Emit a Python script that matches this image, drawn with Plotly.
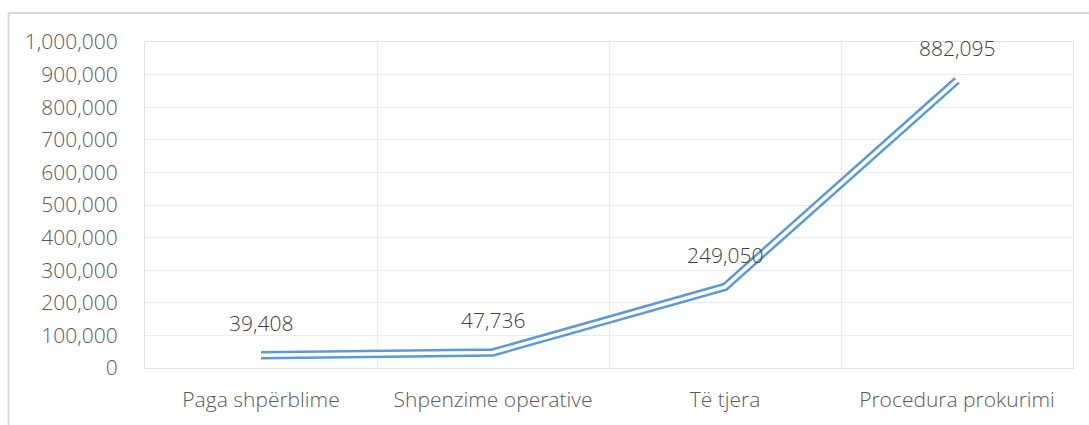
import plotly.graph_objects as go

categories = ["Paga shpërblime", "Shpenzime operative", "Të tjera", "Procedura prokurimi"]
values = [39408, 47736, 249050, 882095]
tick_vals = [0, 100000, 200000, 300000, 400000, 500000, 600000, 700000, 800000, 900000, 1000000]
tick_text = [f"{v:,}" for v in tick_vals]

line_color = '#5B9BD5'
font_family = 'Open Sans'

fig = go.Figure()
# double compound line: wide blue stroke with a thin white core
fig.add_trace(go.Scatter(x = categories, y = values, mode = 'lines',
                         line = dict(color = line_color, width = 8.5), hoverinfo = 'skip'))
fig.add_trace(go.Scatter(x = categories, y = values, mode = 'lines',
                         line = dict(color = 'white', width = 3.5),
                         hoverinfo = 'text', hovertext = [f"{c}: {v:,}" for c, v in zip(categories, values)]))

for c, v in zip(categories, values):
    fig.add_annotation(x = c, y = v, text = f"{v:,}", showarrow = False, yshift = 32,
                       font = dict(family = font_family, size = 21, color = '#404040', weight = 300))

# outer chart border
fig.add_shape(type = 'rect', xref = 'paper', yref = 'paper', x0 = -0.147, x1 = 1.03, y0 = -0.3, y1 = 1.089,
              line = dict(color = '#D9D9D9', width = 2), fillcolor = 'rgba(0,0,0,0)', layer = 'below')

fig.update_layout(plot_bgcolor = 'white', paper_bgcolor = 'white', width = 1089, height = 425,
                  margin = dict(l = 145, r = 16, t = 42, b = 55), showlegend = False,
                  font = dict(family = font_family, size = 21, color = '#595959', weight = 300))
fig.update_xaxes(type = 'category', range = [-0.5, 3.5], tickson = 'boundaries', showgrid = True,
                 gridwidth = 1, gridcolor = '#EBEBEB', showline = True, linecolor = '#E3E3E3', mirror = True,
                 ticks = '', ticklabelstandoff = 13, tickfont = dict(size = 21))
fig.update_yaxes(range = [0, 1000000], tickvals = tick_vals, ticktext = tick_text, showgrid = True,
                 gridwidth = 1, gridcolor = '#EBEBEB', zeroline = False, showline = True, linecolor = '#E3E3E3',
                 mirror = True, ticks = '', ticklabelstandoff = 22, tickfont = dict(size = 21))

fig.write_html("out.html", config = {'displayModeBar': False},
               post_script = "document.body.style.margin = '0';")
